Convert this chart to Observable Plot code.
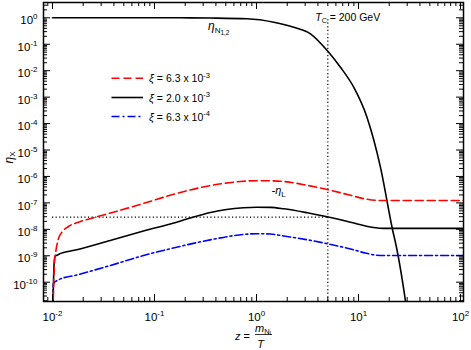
<!DOCTYPE html>
<html><head><meta charset="utf-8">
<script src="https://cdn.jsdelivr.net/npm/d3@7"></script>
<script src="https://cdn.jsdelivr.net/npm/@observablehq/plot@0.6"></script>
<style>
body{margin:0;background:#fff}
svg{font-family:"Liberation Sans",Arial,Helvetica,sans-serif}
</style>
</head><body><div id="chart"></div>
<script>
// ---------- data ----------
// eta_{N1,2}
const zN   = [0.01, 0.18, 0.354, 0.81, 1.48, 2.32, 3.38, 4.93, 6.65, 8.97, 12.1, 16.4, 21.3, 23.9, 28.9, 32];
const etaN = [1, 1, 0.98, 0.917, 0.68, 0.44, 0.248, 0.058, 0.0135, 2.37e-3, 1.74e-4, 2.24e-6, 1.2e-8, 1.58e-9, 1.86e-11, 1e-12];
// -eta_L, xi = 6.3e-3 (red dashed)
const zRed   = [0.0100, 0.01047, 0.01082, 0.01146, 0.01254, 0.01435, 0.01883, 0.0264, 0.0371, 0.078, 0.164, 0.354, 0.697, 1.0, 1.372, 1.85, 3.14, 4.93, 8.35, 11.7, 14.7, 17.6, 110];
const etaRed = [1e-12, 5.6e-10, 1.6e-9, 4.5e-9, 8.3e-9, 1.28e-8, 1.98e-8, 2.88e-8, 4.14e-8, 9.5e-8, 2.27e-7, 4.54e-7, 6.44e-7, 6.9e-7, 6.84e-7, 6.44e-7, 4.62e-7, 3.2e-7, 1.94e-7, 1.4e-7, 1.25e-7, 1.23e-7, 1.23e-7];
// -eta_L, xi = 2.0e-3 (black solid)
const zBlk   = [0.0100, 0.01035, 0.01058, 0.01146, 0.0173, 0.0368, 0.078, 0.165, 0.238, 0.354, 0.508, 0.746, 1.0, 1.372, 1.85, 3.14, 4.93, 8.35, 11.7, 14.7, 17.6, 110];
const etaBlk = [1e-12, 4.3e-10, 9.4e-10, 1.12e-9, 1.68e-9, 3.8e-9, 8.6e-9, 1.86e-8, 2.88e-8, 4.33e-8, 5.66e-8, 6.57e-8, 6.87e-8, 6.75e-8, 5.97e-8, 4.22e-8, 2.97e-8, 1.86e-8, 1.34e-8, 1.14e-8, 1.09e-8, 1.09e-8];
// -eta_L, xi = 6.3e-4 (blue dash-dot)
const zBlu   = [0.0100, 0.0102, 0.01146, 0.0173, 0.0368, 0.078, 0.165, 0.351, 0.746, 1.0, 1.372, 1.85, 3.14, 4.93, 8.35, 11.7, 14.7, 17.6, 110];
const etaBlu = [1e-12, 8.9e-11, 1.23e-10, 1.87e-10, 4.27e-10, 1.02e-9, 2.1e-9, 4.0e-9, 6.4e-9, 6.83e-9, 6.65e-9, 5.59e-9, 4.02e-9, 2.86e-9, 1.8e-9, 1.27e-9, 1.06e-9, 1.02e-9, 1.02e-9];
// reference lines
const obsEta = [2.9e-8];     // horizontal dotted level
const tcZ    = [5];          // T_C = 200 GeV
// legend entries
const legendLabels = [["6.3", "-3"], ["2.0", "-3"], ["6.3", "-4"]];
// ticks
const xMajor = [1e-2, 1e-1, 1, 10, 100];
const yMajor = [1, 1e-1, 1e-2, 1e-3, 1e-4, 1e-5, 1e-6, 1e-7, 1e-8, 1e-9, 1e-10];
const minorK = [2, 3, 4, 5, 6, 7, 8, 9];

// ---------- layout ----------
const W = 471, H = 350, mL = 43, mR = 8, mT = 2, mB = 49;
const fW = W - mL - mR, fH = H - mT - mB;
const xDom = [10 ** -2.088, 10 ** 2.029];
const yDom = [10 ** -10.73, 10 ** 0.579];
const inX = v => v >= xDom[0] && v <= xDom[1];
const inY = v => v >= yDom[0] && v <= yDom[1];
const xMinor = d3.range(-3, 3).flatMap(e => minorK.map(k => k * 10 ** e)).filter(inX);
const yMinor = d3.range(-11, 1).flatMap(e => minorK.map(k => k * 10 ** e)).filter(inY);

const toRows = (zs, vs) => zs.map((z, i) => ({z, v: vs[i]}));
const expFmt = d => "10^" + Math.round(Math.log10(d));
const tk = {stroke: "black", strokeWidth: 1};

const chart = Plot.plot({
  width: W, height: H,
  marginLeft: mL, marginRight: mR, marginTop: mT, marginBottom: mB,
  style: {background: "white", fontFamily: '"Liberation Sans", Arial, sans-serif', overflow: "visible"},
  x: {type: "log", domain: xDom, label: null},
  y: {type: "log", domain: yDom, label: null},
  marks: [
    Plot.ruleY(obsEta, {x1: xMajor[0], x2: tcZ[0], stroke: "black", strokeWidth: 1.2, strokeDasharray: "1.2,2.4"}),
    Plot.ruleX(tcZ, {y1: yDom[0], y2: 0.85, stroke: "black", strokeWidth: 1.2, strokeDasharray: "1.2,2.4"}),
    Plot.line(toRows(zN, etaN), {x: "z", y: "v", stroke: "black", strokeWidth: 1.6, curve: "monotone-x", clip: true}),
    Plot.line(toRows(zBlu, etaBlu), {x: "z", y: "v", stroke: "#0000ff", strokeWidth: 1.6, strokeDasharray: "8,3,2,3", curve: "monotone-x", clip: true}),
    Plot.line(toRows(zBlk, etaBlk), {x: "z", y: "v", stroke: "black", strokeWidth: 1.6, curve: "monotone-x", clip: true}),
    Plot.line(toRows(zRed, etaRed), {x: "z", y: "v", stroke: "#ff0000", strokeWidth: 1.6, strokeDasharray: "8,4", curve: "monotone-x", clip: true}),
    // inward ticks on all four sides
    Plot.ruleX(xMajor, {...tk, insetTop: fH - 7}),
    Plot.ruleX(xMajor, {...tk, insetBottom: fH - 7}),
    Plot.ruleX(xMinor, {...tk, insetTop: fH - 4}),
    Plot.ruleX(xMinor, {...tk, insetBottom: fH - 4}),
    Plot.ruleY(yMajor, {...tk, insetRight: fW - 7}),
    Plot.ruleY(yMajor, {...tk, insetLeft: fW - 7}),
    Plot.ruleY(yMinor, {...tk, insetRight: fW - 4}),
    Plot.ruleY(yMinor, {...tk, insetLeft: fW - 4}),
    Plot.frame({stroke: "black", strokeWidth: 1.5}),
    Plot.axisX({ticks: xMajor, tickSize: 0, tickPadding: 11, tickFormat: expFmt, fontSize: 11.5, label: null}),
    Plot.axisY({ticks: yMajor, tickSize: 0, tickPadding: 6, tickFormat: expFmt, fontSize: 11.5, label: null, dy: 3})
  ]
});
document.getElementById("chart").appendChild(chart);

const svg = d3.select(chart.tagName.toLowerCase() === "svg" ? chart : chart.querySelector("svg"));
// power-of-ten tick labels with real superscripts
svg.selectAll("text").each(function () {
  const m = /^10\^(-?\d+)$/.exec(this.textContent);
  if (!m) return;
  const el = d3.select(this);
  el.text(null);
  el.append("tspan").text("10");
  el.append("tspan").attr("dy", -5).attr("font-size", 8).text(m[1]);
});

// rich text helper
function rich(x, y, parts, opt = {}) {
  const t = svg.append("text").attr("x", x).attr("y", y).attr("fill", "black")
    .attr("text-anchor", opt.anchor || "start");
  if (opt.transform) t.attr("transform", opt.transform);
  let cur = 0;
  for (const p of parts) {
    const s = t.append("tspan").attr("font-size", p.size).text(p.t);
    const d = (p.shift || 0) - cur;
    if (d) s.attr("dy", d);
    cur = p.shift || 0;
    if (p.italic) s.attr("font-style", "italic");
  }
  return t;
}
const sx = chart.scale("x");
const vx = sx.apply(tcZ[0]);

// annotations
rich(vx - 12, 20.5, [{t: "T", size: 10.5, italic: true}, {t: "C", size: 7, shift: 2.5}, {t: " = 200 GeV", size: 10.5}]);
rich(208, 30, [{t: "η", size: 12, italic: true}, {t: "N", size: 8, shift: 3}, {t: "1,2", size: 6.5, shift: 5}]);
rich(271.5, 194, [{t: "-η", size: 11, italic: true}, {t: "L", size: 8, shift: 3}]);

// legend
const legY = [78.3, 97.5, 116.5];
const legStyles = [
  {stroke: "#ff0000", dash: "8,4"},
  {stroke: "black", dash: null},
  {stroke: "#0000ff", dash: "8,3,2,3"}
];
legendLabels.forEach(([mant, ex], i) => {
  const ln = svg.append("line").attr("x1", 111.5).attr("x2", 143).attr("y1", legY[i]).attr("y2", legY[i])
    .attr("stroke", legStyles[i].stroke).attr("stroke-width", 1.6);
  if (legStyles[i].dash) ln.attr("stroke-dasharray", legStyles[i].dash);
  rich(149, legY[i] + 4, [{t: "ξ", size: 11, italic: true}, {t: " = " + mant + " x 10", size: 10.5}, {t: ex, size: 7.5, shift: -4.5}]);
});

// axis titles
rich(13, 157.5, [{t: "η", size: 12, italic: true}, {t: "X", size: 8, shift: 2}], {anchor: "middle", transform: "rotate(-90,13,157.5)"});
rich(235, 340, [{t: "z", size: 11, italic: true}, {t: " =", size: 11}]);
rich(255, 331.5, [{t: "m", size: 11, italic: true}, {t: "N", size: 7.5, shift: 2}, {t: "I", size: 5.5, shift: 3.5}]);
svg.append("line").attr("x1", 255).attr("x2", 272).attr("y1", 334.5).attr("y2", 334.5).attr("stroke", "black").attr("stroke-width", 0.8);
rich(260.5, 348, [{t: "T", size: 11, italic: true}], {anchor: "middle"});
</script>
</body></html>
